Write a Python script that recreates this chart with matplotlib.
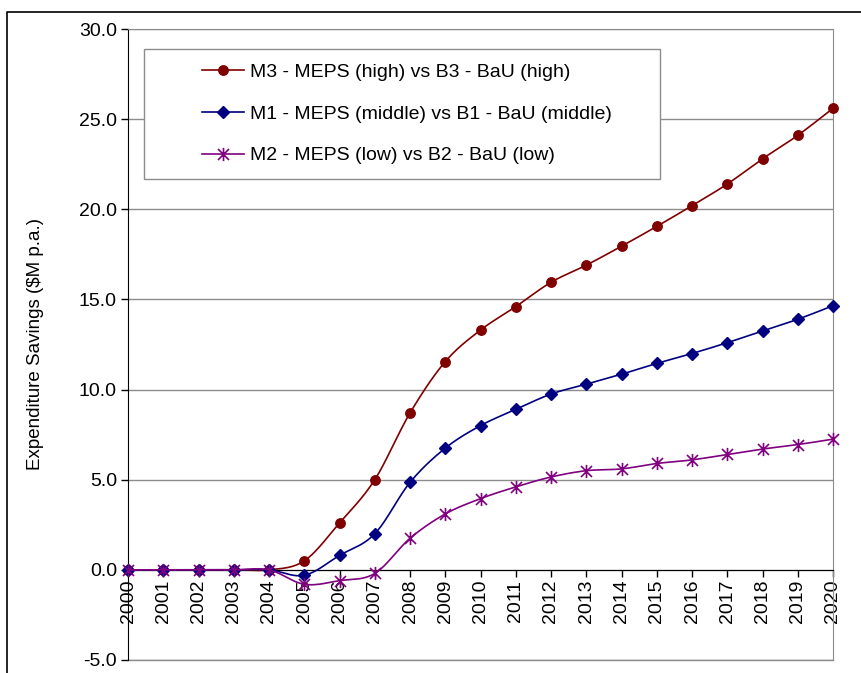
import matplotlib
matplotlib.use('Agg')
import matplotlib.pyplot as plt
from matplotlib.path import Path
from matplotlib.patches import Rectangle
from matplotlib.lines import Line2D
import numpy as np

plt.rcParams['font.family'] = ['Liberation Sans', 'DejaVu Sans']

years = list(range(2000, 2021))
high = [0, 0, 0, 0, 0, 0.5, 2.6, 5.0, 8.7, 11.55, 13.3, 14.6, 15.95, 16.9,
        17.95, 19.05, 20.2, 21.4, 22.8, 24.1, 25.6]
middle = [0, 0, 0, 0, 0, -0.3, 0.8, 2.0, 4.85, 6.75, 8.0, 8.9, 9.75, 10.3,
          10.85, 11.45, 12.0, 12.6, 13.25, 13.9, 14.65]
low = [0, 0, 0, 0, 0, -0.8, -0.6, -0.2, 1.75, 3.1, 3.95, 4.6, 5.15, 5.5,
       5.6, 5.9, 6.1, 6.4, 6.7, 6.95, 7.25]

labels = ['M3 - MEPS (high) vs B3 - BaU (high)',
          'M1 - MEPS (middle) vs B1 - BaU (middle)',
          'M2 - MEPS (low) vs B2 - BaU (low)']

W, H = 862, 673

# asterisk marker: an X with a vertical stroke
star = Path([(-1, -1), (1, 1), (-1, 1), (1, -1), (0, -1.2), (0, 1.2)],
            [Path.MOVETO, Path.LINETO, Path.MOVETO, Path.LINETO,
             Path.MOVETO, Path.LINETO])


def smooth(x, y, n=24):
    # bezier smoothing through the points, like a spreadsheet "smoothed line"
    p = np.column_stack([x, y]).astype(float)
    p = np.vstack([p[0], p, p[-1]])
    out = []
    for i in range(1, len(p) - 2):
        p0, p1, p2, p3 = p[i - 1], p[i], p[i + 1], p[i + 2]
        c1 = p1 + (p2 - p0) / 6.0
        c2 = p2 - (p3 - p1) / 6.0
        t = np.linspace(0, 1, n)[:, None]
        seg = ((1 - t) ** 3 * p1 + 3 * (1 - t) ** 2 * t * c1
               + 3 * (1 - t) * t ** 2 * c2 + t ** 3 * p2)
        out.append(seg if i == 1 else seg[1:])
    out = np.vstack(out)
    return out[:, 0], out[:, 1]


fig = plt.figure(figsize=(W / 100, H / 100), dpi=100)
ax = fig.add_axes([128 / W, 13 / H, 705 / W, 631 / H])

series = [
    (high, '#800000', 'o', 6.8, {}),
    (middle, '#000080', 'D', 5.8, {}),
    (low, '#800080', star, 9.5, {'markerfacecolor': 'none', 'markeredgewidth': 1.2}),
]

handles = []
for (vals, color, mk, ms, extra), lab in zip(series, labels):
    xs, ys = smooth(years, vals)
    ax.plot(xs, ys, color=color, lw=1.2, zorder=3, clip_on=False)
    ax.plot(years, vals, linestyle='none', marker=mk, markersize=ms,
            color=color, zorder=3, clip_on=False, **extra)
    handles.append(Line2D([], [], color=color, lw=1.2, marker=mk,
                          markersize=ms, **extra))

ax.set_xlim(2000, 2020)
ax.set_ylim(-5, 30)
ax.set_xticks(years)
ax.set_yticks(np.arange(-5, 31, 5))
ax.set_yticklabels(['%.1f' % v for v in np.arange(-5, 31, 5)])

ax.yaxis.grid(True, color='#8c8c8c', lw=1)
ax.set_axisbelow(True)

ax.spines['left'].set_color('black')
ax.spines['right'].set_color('#8c8c8c')
ax.spines['top'].set_color('#8c8c8c')
ax.spines['bottom'].set_position(('data', 0))
ax.spines['bottom'].set_color('black')
ax.spines['bottom'].set_zorder(2.5)
ax.axhline(-5, color='#8c8c8c', lw=1, clip_on=False)

ax.tick_params(axis='y', direction='out', length=5, width=1, labelsize=14, pad=3)
ax.tick_params(axis='x', direction='out', length=5, width=1, labelsize=14,
               pad=2, labelrotation=90)

ax.set_ylabel('Expenditure Savings ($M p.a.)', fontsize=13.5)
ax.yaxis.set_label_coords((44 - 128) / 705, 0.5)

# legend frame
ax.add_patch(Rectangle((144 / W, 1 - 179 / H), 516 / W, 130 / H,
                       transform=fig.transFigure, facecolor='white',
                       edgecolor='#8c8c8c', lw=1, zorder=4))
leg = ax.legend(handles, labels, loc='upper left', frameon=False,
                bbox_to_anchor=(202 / W, 1 - 63 / H),
                bbox_transform=fig.transFigure, fontsize=14,
                borderpad=0, borderaxespad=0, handlelength=2.15,
                handletextpad=0.3, labelspacing=1.25)
leg.set_zorder(5)

# outer frame of the figure
fig.add_artist(Line2D([7 / W, 7 / W, 1], [0, 1 - 12 / H, 1 - 12 / H],
                      transform=fig.transFigure, color='black', lw=1.2))

fig.savefig('out.png', dpi=100)
